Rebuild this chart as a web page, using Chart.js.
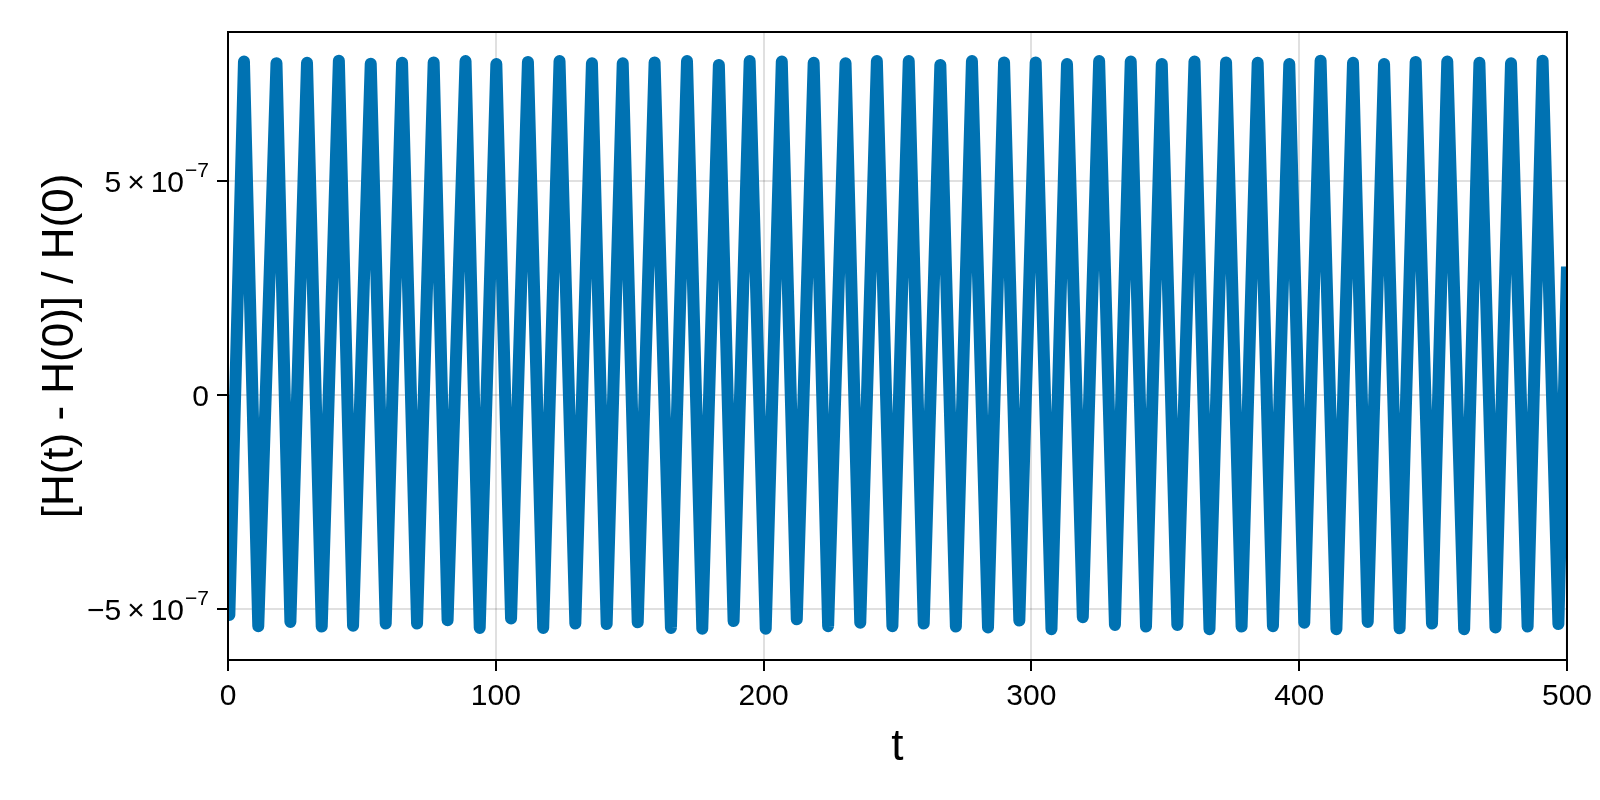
<!DOCTYPE html>
<html>
<head>
<meta charset="utf-8">
<title>Relative energy error</title>
<script src="https://cdn.jsdelivr.net/npm/chart.js@4.4.1/dist/chart.umd.min.js"></script>
<style>
  html, body { margin: 0; padding: 0; background: #fff; }
  canvas { display: block; }
</style>
</head>
<body>
<canvas id="grafico" width="1600" height="800"></canvas>
<script>
// values in units of 1e-7
const PEAK_T = [5.96, 18.1, 29.5, 41.4, 53.3, 65.0, 76.8, 88.7, 100.2, 112.0, 123.8, 135.9, 147.4, 159.3,
  171.4, 183.3, 194.8, 206.8, 218.7, 230.6, 242.3, 254.2, 266.0, 277.8, 289.8, 301.6, 313.3, 325.3,
  337.1, 348.7, 360.9, 372.7, 384.5, 396.3, 408.0, 420.1, 431.7, 443.5, 455.3, 467.3, 479.1, 490.9];
const PEAK_V = [7.79, 7.75, 7.76, 7.81, 7.74, 7.76, 7.77, 7.80, 7.73, 7.78, 7.80, 7.75, 7.75, 7.77,
  7.80, 7.71, 7.80, 7.79, 7.76, 7.75, 7.80, 7.80, 7.71, 7.80, 7.77, 7.77, 7.73, 7.80,
  7.79, 7.73, 7.79, 7.77, 7.76, 7.73, 7.81, 7.76, 7.73, 7.78, 7.79, 7.76, 7.75, 7.81];
const TROUGH_T = [0.5, 11.3, 23.3, 35.0, 46.7, 58.9, 70.6, 82.0, 94.0, 105.7, 117.7, 129.7, 141.4, 153.0,
  165.4, 177.1, 188.8, 200.8, 212.4, 224.1, 236.1, 248.1, 259.8, 271.8, 283.8, 295.5, 307.5, 319.2,
  331.2, 342.8, 354.5, 366.5, 378.5, 390.2, 401.9, 413.9, 425.6, 437.5, 449.6, 461.6, 473.3, 485.3, 496.8];
const TROUGH_V = [-5.14, -5.40, -5.30, -5.41, -5.39, -5.34, -5.34, -5.26, -5.44, -5.22, -5.44, -5.34, -5.35, -5.31,
  -5.44, -5.46, -5.28, -5.46, -5.24, -5.40, -5.32, -5.40, -5.34, -5.41, -5.43, -5.27, -5.47, -5.19,
  -5.37, -5.41, -5.37, -5.47, -5.41, -5.40, -5.32, -5.47, -5.30, -5.45, -5.34, -5.47, -5.43, -5.41, -5.35];
const EDGE_T = [0, 500];
const EDGE_V = [0, 3.0];

const X_TICKS = [0, 100, 200, 300, 400, 500];
const Y_TICKS = [-5, 0, 5];
const Y_TICK_BASE = ['\u22125\u2009\u00d7\u200910', '0', '5\u2009\u00d7\u200910'];
const Y_TICK_EXP = ['\u22127', '', '\u22127'];

const FONT = "'Liberation Sans', Arial, sans-serif";

const puntos = [];
PEAK_T.forEach((t, i) => puntos.push({x: t, y: PEAK_V[i]}));
TROUGH_T.forEach((t, i) => puntos.push({x: t, y: TROUGH_V[i]}));
EDGE_T.forEach((t, i) => puntos.push({x: t, y: EDGE_V[i]}));
puntos.sort((a, b) => a.x - b.x);

// top and right spines
const marco = {
  id: 'marco',
  afterDraw(chart) {
    const {ctx, chartArea: a} = chart;
    ctx.save();
    ctx.strokeStyle = '#000';
    ctx.lineWidth = 2;
    ctx.strokeRect(a.left, a.top, a.right - a.left, a.bottom - a.top);
    ctx.restore();
  }
};

// y tick labels with a real superscript exponent
const etiquetasY = {
  id: 'etiquetasY',
  afterDraw(chart) {
    const {ctx} = chart;
    const ey = chart.scales.y;
    ctx.save();
    ctx.fillStyle = '#000';
    ctx.textAlign = 'left';
    ctx.textBaseline = 'alphabetic';
    Y_TICKS.forEach((v, i) => {
      const py = ey.getPixelForValue(v);
      const right = ey.right - 11 - 8;
      ctx.font = '30px ' + FONT;
      const bw = ctx.measureText(Y_TICK_BASE[i]).width;
      ctx.font = '21px ' + FONT;
      const sw = Y_TICK_EXP[i] ? ctx.measureText(Y_TICK_EXP[i]).width + 1 : 0;
      const x0 = right - bw - sw;
      ctx.font = '30px ' + FONT;
      ctx.fillText(Y_TICK_BASE[i], x0, py + 11);
      if (Y_TICK_EXP[i]) {
        ctx.font = '21px ' + FONT;
        ctx.fillText(Y_TICK_EXP[i], x0 + bw + 1, py - 4);
      }
    });
    ctx.restore();
  }
};

const ctxH = document.getElementById('grafico');
new Chart(ctxH, {
  type: 'line',
  data: {
    datasets: [{
      data: puntos,
      borderColor: '#0072b2',
      borderWidth: 12,
      borderJoinStyle: 'round',
      pointRadius: 0,
      tension: 0,
      fill: false,
      clip: 0
    }]
  },
  options: {
    responsive: false,
    animation: false,
    devicePixelRatio: 1,
    layout: { padding: { top: 32, right: 32, left: 0, bottom: 0 } },
    plugins: {
      legend: { display: false },
      tooltip: { enabled: false }
    },
    scales: {
      x: {
        type: 'linear',
        min: 0,
        max: 500,
        afterBuildTicks: s => { s.ticks = X_TICKS.map(v => ({value: v})); },
        afterFit: s => { s.height = 140; },
        grid: { color: 'rgba(0,0,0,0.12)', lineWidth: 2, tickLength: 11, tickColor: '#000', tickWidth: 2 },
        border: { display: true, color: '#000', width: 2 },
        ticks: { color: '#000', font: { family: FONT, size: 30 }, padding: 8, maxRotation: 0, autoSkip: false },
        title: { display: true, text: 't', color: '#000', font: { family: FONT, size: 44 }, padding: { top: 0, bottom: 26 } }
      },
      y: {
        type: 'linear',
        min: -6.19,
        max: 8.48,
        afterBuildTicks: s => { s.ticks = Y_TICKS.map(v => ({value: v})); },
        afterFit: s => { s.width = 228; },
        grid: { color: 'rgba(0,0,0,0.12)', lineWidth: 2, tickLength: 11, tickColor: '#000', tickWidth: 2 },
        border: { display: true, color: '#000', width: 2 },
        ticks: { display: false },
        title: { display: true, text: '[H(t) - H(0)] / H(0)', color: '#000', font: { family: FONT, size: 44 }, padding: { top: 34, bottom: 0 } }
      }
    }
  },
  plugins: [marco, etiquetasY]
});
</script>
</body>
</html>
